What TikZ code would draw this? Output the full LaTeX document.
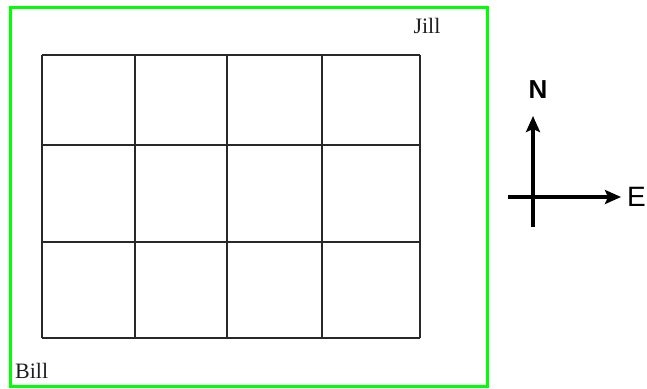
\documentclass[tikz,border=0pt]{standalone}
\usepackage{fontspec}
\setmainfont{Liberation Serif}
\newfontfamily\arialfont{Liberation Sans}
\usetikzlibrary{arrows.meta}
\tikzset{
  frame/.style={draw={rgb,255:red,0;green,255;blue,0}, line width=3pt},
  gridline/.style={draw={rgb,255:red,40;green,40;blue,40}, line width=1.3pt},
  compassline/.style={draw=black, line width=3.5pt, -{Stealth[length=16pt,width=14pt,inset=3pt]}},
  plainline/.style={draw=black, line width=3.5pt},
  lbl/.style={font=\fontsize{22}{24}\selectfont, text={rgb,255:red,30;green,30;blue,30}, inner sep=0pt},
  dirlbl/.style={inner sep=0pt, text=black}
}
\begin{document}
\begin{tikzpicture}[x=1pt,y=-1pt]
\useasboundingbox (0,0) rectangle (647,388);
% outer frame
\draw[frame] (10,7) rectangle (487,386);
% grid
\foreach \xx in {42,135,227,322,420} \draw[gridline] (\xx,55) -- (\xx,338);
\foreach \yy in {55,145,242,338} \draw[gridline] (42,\yy) -- (420,\yy);
% labels
\node[lbl, anchor=base] (jill) at (427,33) {Jill};
\node[lbl, anchor=base west] (bill) at (15,378) {Bill};
% compass
\coordinate (c0) at (533,197);
\coordinate (ctop) at (533,116);
\coordinate (cbot) at (533,227);
\coordinate (cleft) at (508,197);
\coordinate (cright) at (621,197);
\draw[plainline] (c0) -- (cbot);
\draw[plainline] (cleft) -- (c0);
\draw[compassline] (c0) -- (ctop);
\draw[compassline] (c0) -- (cright);
\node[dirlbl, font=\arialfont\bfseries\fontsize{26}{28}\selectfont, anchor=base] (n) at (538,98) {N};
\node[dirlbl, font=\arialfont\fontsize{28}{30}\selectfont, anchor=base west] (e) at (627,206) {E};
\end{tikzpicture}
\end{document}
